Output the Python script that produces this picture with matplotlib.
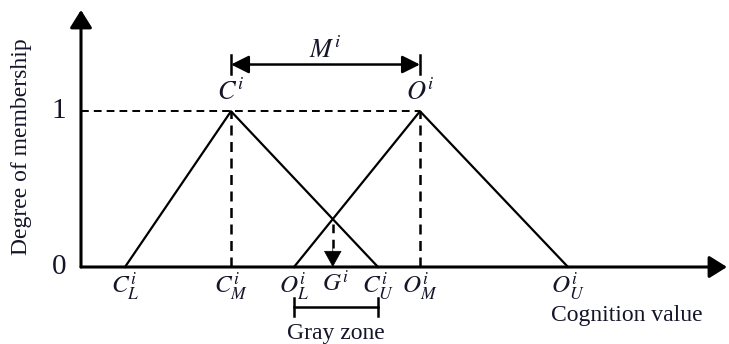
import matplotlib
matplotlib.use('Agg')
import matplotlib.pyplot as plt
from matplotlib.patches import FancyArrowPatch

plt.rcParams['font.family'] = ['Liberation Serif', 'DejaVu Serif']
plt.rcParams['mathtext.fontset'] = 'stix'

# 三角形ファジィ数 (L, M, U)
c_tri = [0.88, 3.0, 5.94]
o_tri = [4.26, 6.78, 9.74]
tri_y = [0, 1, 0]

# 目盛ラベル
tick_pos = [c_tri[0], c_tri[1], o_tri[0], c_tri[2], o_tri[1], o_tri[2]]
tick_lab = [r'$C^{i}_{L}$', r'$C^{i}_{M}$', r'$O^{i}_{L}$', r'$C^{i}_{U}$',
            r'$O^{i}_{M}$', r'$O^{i}_{U}$']

x_end = 12.92
y_end = 1.65
ink = '#15152a'
head = '-|>,head_length=0.4,head_width=0.25'

fig = plt.figure(figsize=(7.29, 3.44), dpi=100)
# 軸の位置はピクセルから決めた
ax = fig.add_axes([81/729, 77/344, 646/729, 257/344])
ax.set_xlim(0, x_end)
ax.set_ylim(0, y_end)
ax.axis('off')

# 座標軸 (矢印)
for xy in [(x_end, 0), (0, y_end)]:
    ax.add_patch(FancyArrowPatch((0, 0), xy, arrowstyle=head, mutation_scale=27,
                                 lw=2.2, color='black', clip_on=False,
                                 shrinkA=0, shrinkB=0))

# 三角形
ax.plot(c_tri, tri_y, color='black', lw=1.6, clip_on=False)
ax.plot(o_tri, tri_y, color='black', lw=1.6, clip_on=False)

# 破線
dash = (0, (4, 2.6))
ax.plot([0, o_tri[1]], [1, 1], color='black', lw=1.4, linestyle=dash)
ax.plot([c_tri[1], c_tri[1]], [0, 1], color='black', lw=1.8, linestyle=dash)
ax.plot([o_tri[1], o_tri[1]], [0, 1], color='black', lw=1.8, linestyle=dash)

# 交点 G
slope_o = 1 / (o_tri[1] - o_tri[0])
slope_c = 1 / (c_tri[2] - c_tri[1])
gx = (slope_o * o_tri[0] + slope_c * c_tri[2]) / (slope_o + slope_c)
gy = slope_o * (gx - o_tri[0])
ax.plot([gx, gx], [gy - 0.03, 0.12], color='black', lw=1.8, linestyle=(0, (3.5, 2.6)))
ax.add_patch(FancyArrowPatch((gx, 0.12), (gx, 0), arrowstyle='-|>,head_length=0.4,head_width=0.22',
                             mutation_scale=27, lw=0.5, color='black',
                             shrinkA=0, shrinkB=0))

# M^i の矢印
m_y = 1.30
ax.add_patch(FancyArrowPatch((c_tri[1], m_y), (o_tri[1], m_y),
                             arrowstyle='<|-|>,head_length=0.4,head_width=0.2',
                             mutation_scale=27, lw=1.8, color='black',
                             shrinkA=0, shrinkB=0, clip_on=False))
for x in [c_tri[1], o_tri[1]]:
    ax.plot([x, x], [m_y - 0.06, m_y + 0.06], color='black', lw=1.8, clip_on=False)
ax.text((c_tri[1] + o_tri[1]) / 2, m_y + 0.01, r'$M^{i}$', fontsize=19, color=ink,
        ha='center', va='bottom')

# Gray zone
gz_y = -0.255
ax.plot([o_tri[0], c_tri[2]], [gz_y, gz_y], color='black', lw=1.8, clip_on=False)
for x in [o_tri[0], c_tri[2]]:
    ax.plot([x, x], [gz_y - 0.057, gz_y + 0.057], color='black', lw=1.8, clip_on=False)
ax.text((o_tri[0] + c_tri[2]) / 2, -0.43, 'Gray zone', fontsize=17, color=ink,
        ha='center', va='center')

# ピークのラベル
ax.text(c_tri[1], 1.04, r'$C^{i}$', fontsize=19, color=ink, ha='center', va='bottom')
ax.text(o_tri[1], 1.04, r'$O^{i}$', fontsize=19, color=ink, ha='center', va='bottom')

# x 目盛ラベル
for x, lab in zip(tick_pos, tick_lab):
    ax.text(x, -0.025, lab, fontsize=18, color=ink, ha='center', va='top')
ax.text(gx + 0.05, -0.025, r'$G^{i}$', fontsize=18, color=ink, ha='center', va='top')

# y 目盛ラベル
ax.text(-0.44, 0, '0', fontsize=21, color=ink, ha='center', va='center')
ax.text(-0.44, 1, '1', fontsize=21, color=ink, ha='center', va='center')

ax.text(10.92, -0.31, 'Cognition value', fontsize=17, color=ink, ha='center', va='center')
ax.text(-1.18, 0.77, 'Degree of membership', fontsize=17, color=ink, rotation=90,
        ha='center', va='center')

fig.savefig('out.png', dpi=100)
